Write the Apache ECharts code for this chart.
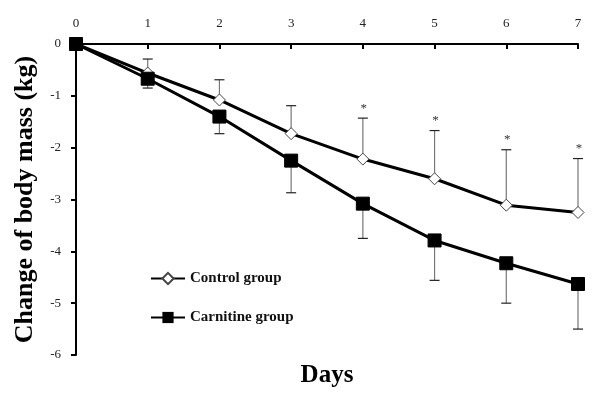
<!DOCTYPE html>
<html>
<head>
<meta charset="utf-8">
<script src="https://cdn.jsdelivr.net/npm/echarts@6/dist/echarts.min.js"></script>
<style>html,body{margin:0;padding:0;background:#fff}#chart{width:600px;height:399px}</style>
</head>
<body>
<div id="chart"></div>
<script>
var days = [0, 1, 2, 3, 4, 5, 6, 7];
var controlMean = [0, -0.56, -1.08, -1.73, -2.22, -2.60, -3.11, -3.25];
var controlErr = [0, 0.27, 0.39, 0.54, 0.79, 0.93, 1.07, 1.04];
var carnitineMean = [0, -0.67, -1.40, -2.25, -3.08, -3.79, -4.23, -4.63];
var carnitineErr = [0, 0.18, 0.33, 0.62, 0.67, 0.77, 0.77, 0.87];
var significant = [0, 0, 0, 0, 1, 1, 1, 1];

var serif = '"Liberation Serif", "Times New Roman", serif';

function errData(mean, err, dir) {
  return days.map(function (d, i) {
    return [d, mean[i], mean[i] + dir * err[i], significant[i]];
  });
}

function errRender(withStar) {
  return function (params, api) {
    var x = api.value(0);
    var p0 = api.coord([x, api.value(1)]);
    var p1 = api.coord([x, api.value(2)]);
    if (Math.abs(p1[1] - p0[1]) < 1) return null;
    var st = { stroke: '#777', lineWidth: 1.2 };
    var kids = [
      { type: 'line', shape: { x1: p0[0], y1: p0[1], x2: p1[0], y2: p1[1] }, style: st },
      { type: 'line', shape: { x1: p1[0] - 5, y1: p1[1], x2: p1[0] + 5, y2: p1[1] }, style: { stroke: '#222', lineWidth: 1.2 } }
    ];
    if (withStar && api.value(3)) {
      kids.push({ type: 'text', x: p1[0] + 1, y: p1[1] - 10,
        style: { text: '*', font: '13px ' + serif, fill: '#333', align: 'center', verticalAlign: 'middle' } });
    }
    return { type: 'group', children: kids };
  };
}

var myChart = echarts.init(document.getElementById('chart'));

var option = {
  animation: false,
  backgroundColor: '#fff',
  grid: { left: 76, right: 22, top: 44, bottom: 44, outerBoundsMode: 'none' },
  legend: {
    orient: 'vertical',
    left: 145,
    top: 266,
    itemWidth: 34,
    itemHeight: 14,
    itemGap: 24,
    textStyle: { fontFamily: serif, fontWeight: 'bold', fontSize: 15, color: '#111' },
    data: ['Control group', 'Carnitine group']
  },
  xAxis: {
    type: 'value',
    position: 'top',
    min: 0, max: 7, interval: 1,
    axisLine: { lineStyle: { color: '#000', width: 2 } },
    axisTick: { inside: true, length: 5, lineStyle: { color: '#000', width: 2 } },
    axisLabel: { fontFamily: serif, fontSize: 13, color: '#222', margin: 14 },
    splitLine: { show: false }
  },
  yAxis: {
    type: 'value',
    min: -6, max: 0, interval: 1,
    name: 'Change of body mass (kg)',
    nameLocation: 'middle',
    nameGap: 38,
    nameTextStyle: { fontFamily: serif, fontWeight: 'bold', fontSize: 26, color: '#000' },
    axisLine: { lineStyle: { color: '#000', width: 2 } },
    axisTick: { length: 5, lineStyle: { color: '#000', width: 2 } },
    axisLabel: { fontFamily: serif, fontSize: 13, color: '#222', margin: 15 },
    splitLine: { show: false }
  },
  graphic: [{
    type: 'text', x: 327, y: 376,
    style: { text: 'Days', font: 'bold 25px ' + serif, fill: '#000', align: 'center', verticalAlign: 'middle' }
  }],
  series: [
    {
      type: 'custom', name: 'ctrlErr', z: 1,
      renderItem: errRender(true),
      data: errData(controlMean, controlErr, 1),
      encode: { x: 0, y: [1, 2] }
    },
    {
      type: 'custom', name: 'carnErr', z: 1,
      renderItem: errRender(false),
      data: errData(carnitineMean, carnitineErr, -1),
      encode: { x: 0, y: [1, 2] }
    },
    {
      name: 'Control group', type: 'line', z: 3,
      data: days.map(function (d, i) { return [d, controlMean[i]]; }),
      symbol: 'diamond', symbolSize: 12,
      lineStyle: { color: '#000', width: 3 },
      itemStyle: { color: '#fff', borderColor: '#444', borderWidth: 1 }
    },
    {
      name: 'Carnitine group', type: 'line', z: 4,
      data: days.map(function (d, i) { return [d, carnitineMean[i]]; }),
      symbol: 'rect', symbolSize: 13,
      lineStyle: { color: '#000', width: 3 },
      itemStyle: { color: '#000', borderColor: '#000' }
    }
  ]
};

myChart.setOption(option);
</script>
</body>
</html>
